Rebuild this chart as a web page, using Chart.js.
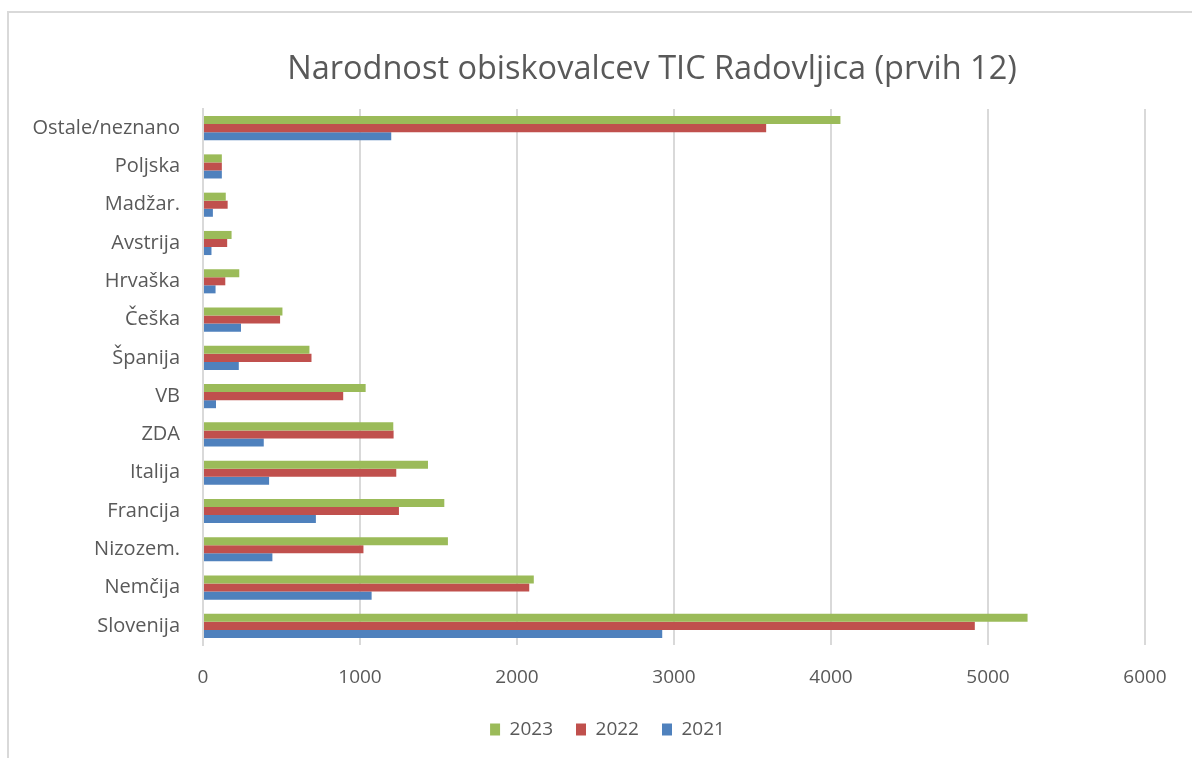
<!DOCTYPE html>
<html>
<head>
<meta charset="utf-8">
<script src="https://cdn.jsdelivr.net/npm/chart.js@4"></script>
<style>
  html, body { margin: 0; padding: 0; background: #fff; }
  #wrap { position: relative; width: 1192px; height: 758px; }
  #frame {
    position: absolute; left: 7px; top: 11px; right: -5px; bottom: -5px;
    border-left: 2px solid #d9d9d9; border-top: 2px solid #d9d9d9;
  }
  canvas { position: absolute; left: 0; top: 0; }
</style>
</head>
<body>
<div id="wrap">
  <div id="frame"></div>
  <canvas id="chart" width="1192" height="758"></canvas>
</div>
<script>
"use strict";

var COUNTRIES = ["Ostale/neznano", "Poljska", "Madžar.", "Avstrija", "Hrvaška", "Češka",
  "Španija", "VB", "ZDA", "Italija", "Francija", "Nizozem.", "Nemčija", "Slovenija"];

var Y2023 = [4060, 120, 145, 182, 231, 506, 678, 1036, 1212, 1433, 1537, 1560, 2107, 5252];
var Y2022 = [3587, 120, 157, 154, 142, 491, 691, 893, 1214, 1231, 1248, 1022, 2078, 4916];
var Y2021 = [1199, 120, 63, 54, 80, 242, 228, 83, 387, 421, 719, 442, 1074, 2925];

var X_TICKS = [0, 1000, 2000, 3000, 4000, 5000, 6000];

var TITLE = "Narodnost obiskovalcev TIC Radovljica (prvih 12)";
var FONT = "'Open Sans', 'Noto Sans', sans-serif";
var TEXT = "#595959";

function bars(label, data, color) {
  return {
    label: label,
    data: data,
    backgroundColor: color,
    borderWidth: 0,
    barPercentage: 1,
    categoryPercentage: 0.63,
  };
}

// title and legend sit off-centre in the original
var offsetPlugin = {
  id: "offsets",
  afterLayout: function (chart) {
    chart.legend.left += 35;
    chart.legend.right += 35;
  },
  afterDraw: function (chart) {
    var ctx = chart.ctx;
    ctx.save();
    ctx.fillStyle = TEXT;
    ctx.font = "32.5px " + FONT;
    ctx.textAlign = "center";
    ctx.textBaseline = "middle";
    ctx.fillText(TITLE, 652, 70);
    ctx.restore();
  },
};

new Chart(document.getElementById("chart"), {
  type: "bar",
  data: {
    labels: COUNTRIES,
    datasets: [
      bars("2023", Y2023, "#9bbb59"),
      bars("2022", Y2022, "#c0504d"),
      bars("2021", Y2021, "#4f81bd"),
    ],
  },
  plugins: [offsetPlugin],
  options: {
    indexAxis: "y",
    responsive: false,
    animation: false,
    layout: { padding: { left: 0, right: 47, top: 109, bottom: 9 } },
    plugins: {
      title: { display: false },
      legend: {
        position: "bottom",
        labels: {
          color: TEXT,
          font: { family: FONT, size: 19 },
          boxWidth: 10,
          boxHeight: 12,
          padding: 23,
        },
      },
      tooltip: { enabled: false },
    },
    scales: {
      x: {
        min: 0,
        max: 6000,
        afterBuildTicks: function (axis) {
          axis.ticks = X_TICKS.map(function (v) { return { value: v }; });
        },
        afterFit: function (axis) { axis.height = 52; },
        grid: { color: "#d9d9d9", lineWidth: 2, drawTicks: false },
        border: { display: false },
        ticks: {
          color: TEXT,
          font: { family: FONT, size: 19 },
          padding: 21,
          callback: function (v) { return String(v); },
        },
      },
      y: {
        afterFit: function (axis) { axis.width = 203; },
        grid: { display: false },
        border: { color: "#d9d9d9", width: 2 },
        ticks: { color: TEXT, font: { family: FONT, size: 20 }, padding: 15 },
      },
    },
  },
});
</script>
</body>
</html>
